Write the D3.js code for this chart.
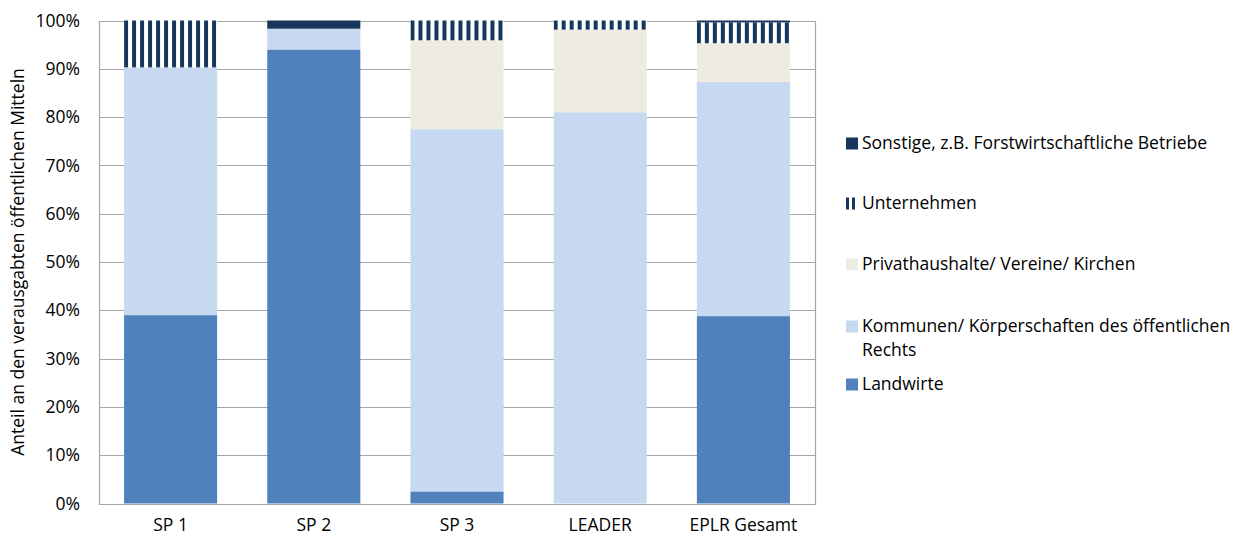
<!DOCTYPE html>
<html>
<head>
<meta charset="utf-8">
<script src="https://cdn.jsdelivr.net/npm/d3@7/dist/d3.min.js"></script>
<style>
  html, body { margin: 0; padding: 0; background: #fff; }
  svg { display: block; font-family: "Open Sans", sans-serif; }
</style>
</head>
<body>
<svg id="chart" width="1233" height="537"></svg>
<script>
// Förderprogramme (Kategorien der x-Achse)
const categories = ["SP 1", "SP 2", "SP 3", "LEADER", "EPLR Gesamt"];

// Anteile in Prozent je Zuwendungsempfänger, von unten nach oben gestapelt
const landwirte    = [39.0, 94.0,  2.5,  0.0, 38.8];
const kommunen     = [51.3,  4.3, 75.0, 81.0, 48.5];
const privat       = [ 0.0,  0.0, 18.4, 17.1,  8.0];
const unternehmen  = [ 9.7,  0.0,  4.1,  1.9,  4.3];
const sonstige     = [ 0.0,  1.7,  0.0,  0.0,  0.4];

const yTicks = [0, 10, 20, 30, 40, 50, 60, 70, 80, 90, 100];

const seriesNames = [
  "Landwirte",
  "Kommunen/ Körperschaften des öffentlichen Rechts",
  "Privathaushalte/ Vereine/ Kirchen",
  "Unternehmen",
  "Sonstige, z.B. Forstwirtschaftliche Betriebe"
];
const seriesValues = [landwirte, kommunen, privat, unternehmen, sonstige];

const svg = d3.select("#chart");
const margin = { left: 99, right: 418, top: 20.5, bottom: 33.5 };
const W = 1233, H = 537;
const x0 = margin.left, x1 = W - margin.right;
const yTop = margin.top, yBot = H - margin.bottom;
const fontSize = 17.5;

const x = d3.scaleBand().domain(categories).range([x0, x1]).paddingInner(0.35).paddingOuter(0.175);
const y = d3.scaleLinear().domain([0, 100]).range([yBot, yTop]);

const navy = "#17365d";
const fills = ["#4f81bd", "#c6d9f1", "#eeece1", null, navy];

// Streifenmuster für "Unternehmen", je Balken an dessen linker Kante ausgerichtet
const defs = svg.append("defs");
categories.forEach((c, i) => {
  const p = defs.append("pattern")
    .attr("id", "stripes" + i)
    .attr("patternUnits", "userSpaceOnUse")
    .attr("x", x(c)).attr("y", 0)
    .attr("width", 8).attr("height", 8);
  p.append("rect").attr("width", 8).attr("height", 8).attr("fill", "#ffffff");
  p.append("rect").attr("width", 4).attr("height", 8).attr("fill", navy);
});
defs.append("pattern")
  .attr("id", "stripesLegend")
  .attr("patternUnits", "userSpaceOnUse")
  .attr("x", 846).attr("y", 0)
  .attr("width", 6).attr("height", 6)
  .call(p => {
    p.append("rect").attr("width", 6).attr("height", 6).attr("fill", "#fff");
    p.append("rect").attr("width", 3).attr("height", 6).attr("fill", navy);
  });

// Gitterlinien
svg.append("g")
  .selectAll("line")
  .data(yTicks)
  .join("line")
  .attr("x1", x0).attr("x2", x1)
  .attr("y1", d => Math.round(y(d)) + 0.5)
  .attr("y2", d => Math.round(y(d)) + 0.5)
  .attr("stroke", "#a6a6a6").attr("stroke-width", 1.2);

// Y-Achse mit Prozentbeschriftung
const yAxis = d3.axisLeft(y).tickValues(yTicks).tickSize(0).tickPadding(19).tickFormat(d => d + "%");
svg.append("g")
  .attr("transform", `translate(${x0},0)`)
  .call(yAxis)
  .call(g => g.select(".domain").remove())
  .call(g => g.selectAll("text").attr("font-size", fontSize).attr("fill", "#000").attr("font-family", "'Open Sans', sans-serif"));

// Gestapelte Daten
const rows = categories.map((c, i) => {
  const r = { cat: c };
  seriesNames.forEach((s, k) => r[s] = seriesValues[k][i]);
  return r;
});
const stack = d3.stack().keys(seriesNames);
const stacked = stack(rows);

const gBars = svg.append("g");
stacked.forEach((layer, k) => {
  gBars.append("g")
    .selectAll("rect")
    .data(layer)
    .join("rect")
    .attr("x", d => x(d.data.cat))
    .attr("width", x.bandwidth())
    .attr("y", d => y(d[1]))
    .attr("height", d => Math.max(0, y(d[0]) - y(d[1])))
    .attr("fill", (d, i) => fills[k] || `url(#stripes${i})`);
});

// Rahmen des Diagrammbereichs (links, rechts, unten)
svg.append("path")
  .attr("d", `M${x0 + 0.5},${Math.round(yTop)} V${Math.round(yBot) + 0.5} H${x1 + 0.5} V${Math.round(yTop)}`)
  .attr("fill", "none").attr("stroke", "#a6a6a6").attr("stroke-width", 1.2);

// X-Achsenbeschriftung
const xAxis = d3.axisBottom(x).tickSize(0).tickPadding(15);
svg.append("g")
  .attr("transform", `translate(0,${yBot})`)
  .call(xAxis)
  .call(g => g.select(".domain").remove())
  .call(g => g.selectAll("text").attr("font-size", fontSize).attr("fill", "#000").attr("font-family", "'Open Sans', sans-serif"));

// Y-Achsentitel
svg.append("text")
  .attr("transform", `translate(24,${(yTop + yBot) / 2}) rotate(-90)`)
  .attr("text-anchor", "middle")
  .attr("font-size", fontSize)
  .attr("fill", "#000")
  .text("Anteil an den verausgabten öffentlichen Mitteln");

// Legende (oberster Stapel zuerst)
const legendItems = [
  { fill: navy, y: 143, lines: [seriesNames[4]] },
  { fill: "url(#stripesLegend)", y: 203, lines: [seriesNames[3]] },
  { fill: fills[2], y: 264, lines: [seriesNames[2]] },
  { fill: fills[1], y: 326, lines: ["Kommunen/ Körperschaften des öffentlichen", "Rechts"] },
  { fill: fills[0], y: 384, lines: [seriesNames[0]] }
];
const lg = svg.append("g");
legendItems.forEach(it => {
  lg.append("rect")
    .attr("x", 846).attr("y", it.y - 5.5)
    .attr("width", 12).attr("height", 12)
    .attr("fill", it.fill);
  it.lines.forEach((ln, j) => {
    lg.append("text")
      .attr("x", 862).attr("y", it.y + j * 23.5)
      .attr("dy", "0.35em")
      .attr("font-size", fontSize)
      .attr("fill", "#000")
      .text(ln);
  });
});
</script>
</body>
</html>
